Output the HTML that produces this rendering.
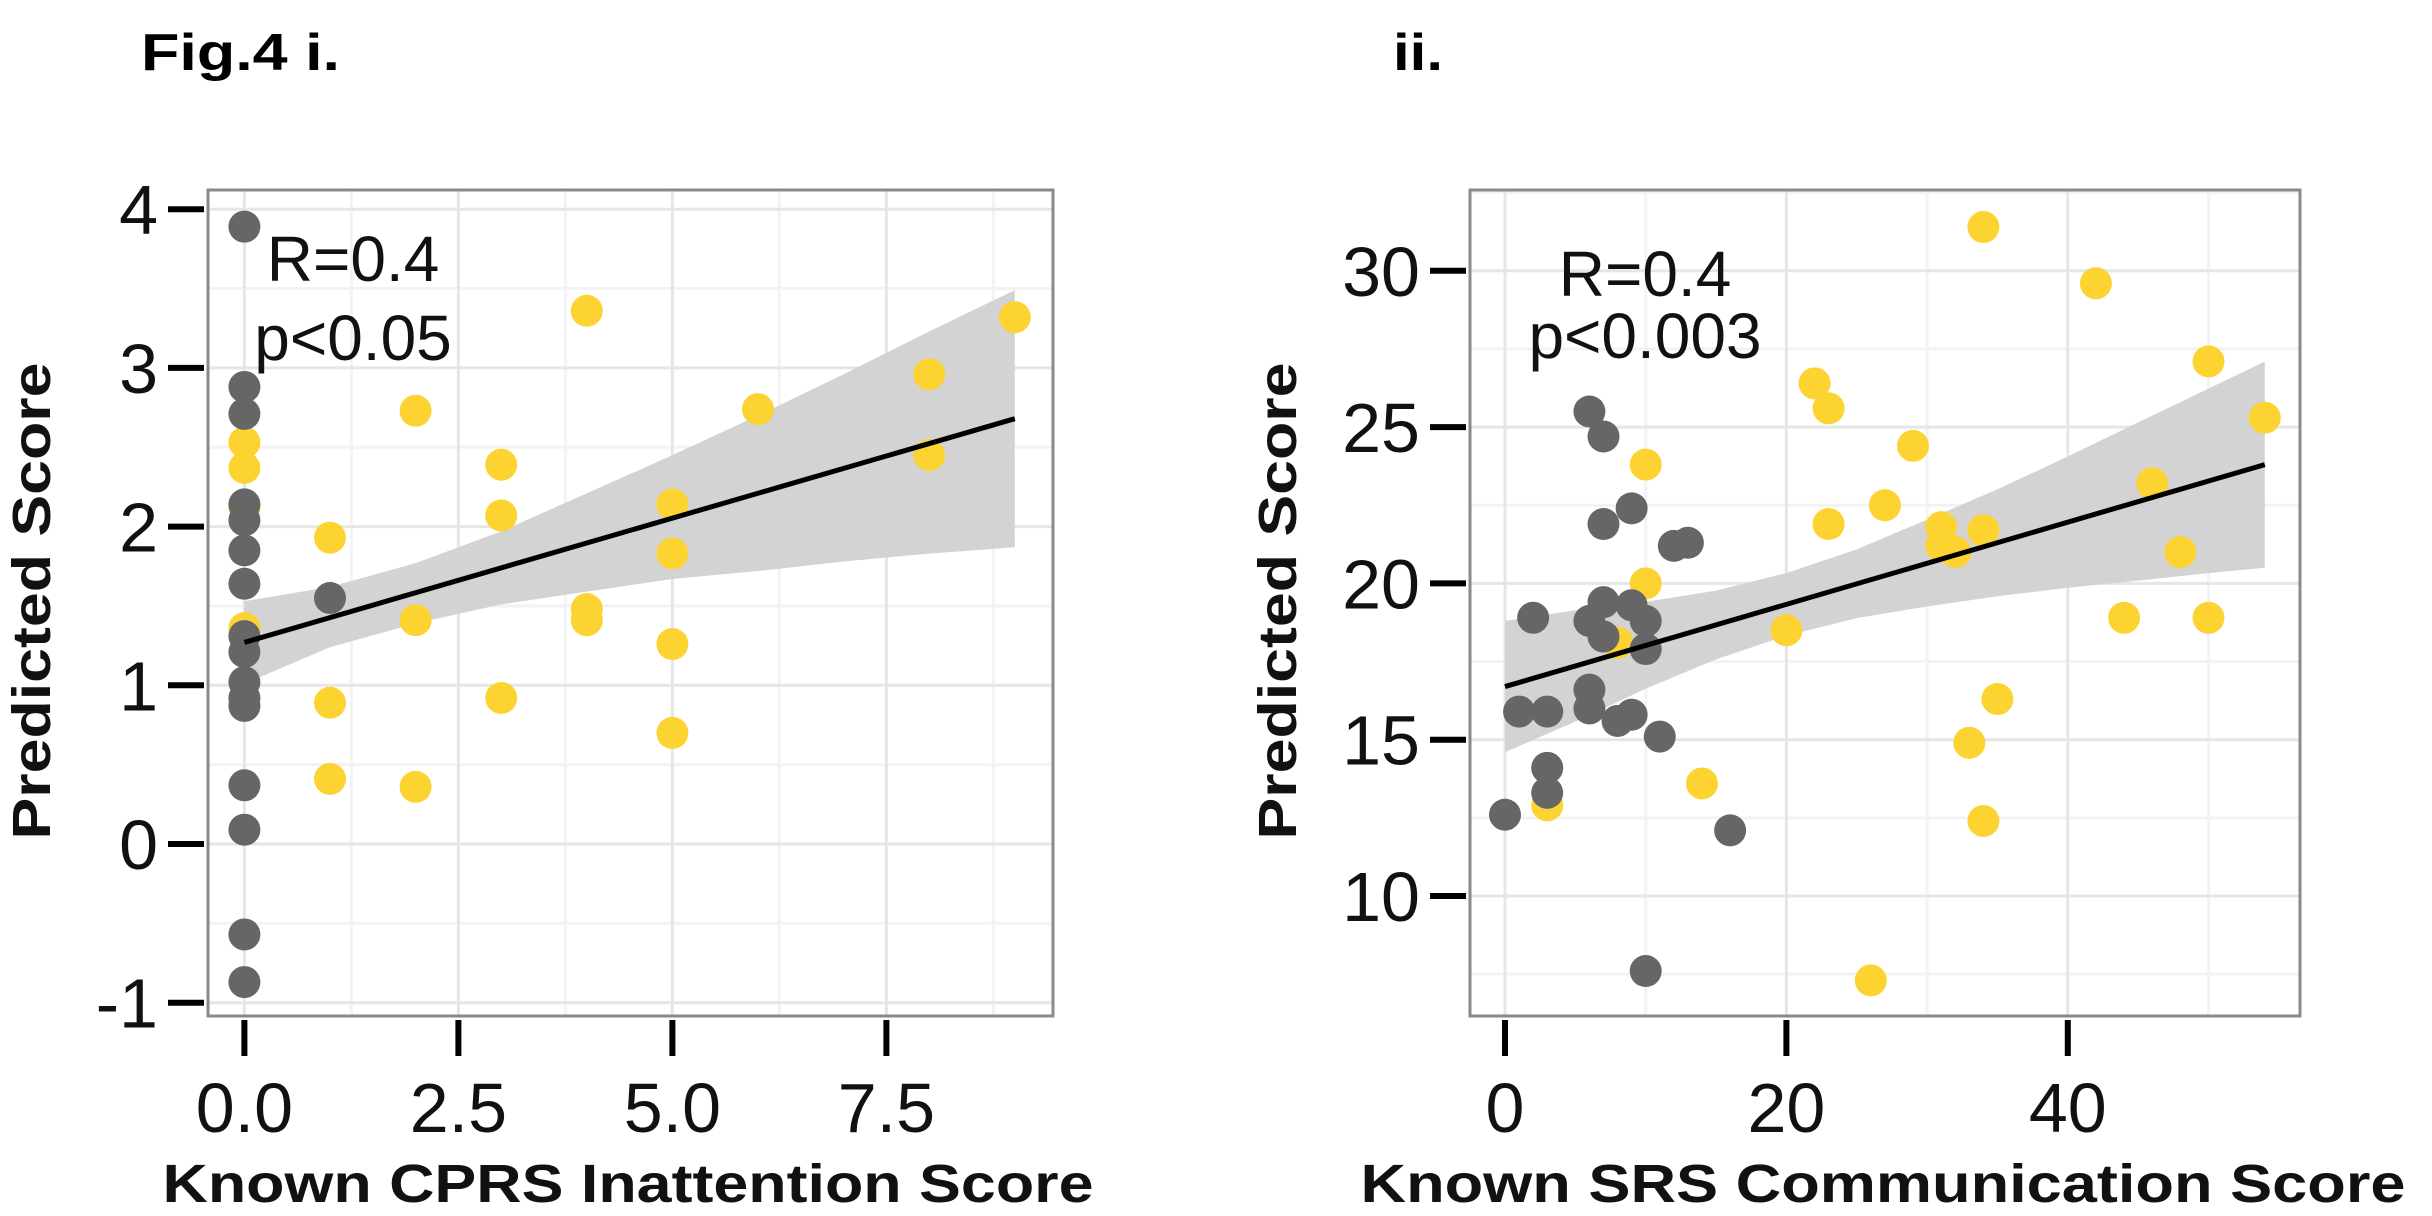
<!DOCTYPE html>
<html><head><meta charset="utf-8">
<style>
html,body{margin:0;padding:0;background:#fff;}
svg{display:block;font-family:"Liberation Sans",sans-serif;}
</style></head>
<body>
<svg id="fig" width="2432" height="1216" viewBox="0 0 2432 1216" xmlns="http://www.w3.org/2000/svg">
<text x="141" y="70" font-size="52" font-weight="bold" textLength="199" lengthAdjust="spacingAndGlyphs">Fig.4 i.</text>
<text x="1393" y="70" font-size="52" font-weight="bold" textLength="50" lengthAdjust="spacingAndGlyphs">ii.</text>
<g id="p1"></g>
<g id="p2"></g>
</svg>
<script>
// Panel i data
const p1GrayX = [0,0,0,0,0,0,0,0,0,0,0,0,0,0,0,0,1];
const p1GrayY = [3.89,2.88,2.71,2.14,2.04,1.85,1.64,1.31,1.21,1.02,0.92,0.87,0.37,0.09,-0.57,-0.87,1.55];
const p1YellowX = [0,0,0,0,1,1,1,2,2,2,3,3,3,4,4,4,5,5,5,5,6,8,8,9];
const p1YellowY = [2.53,2.37,2.12,1.36,1.93,0.89,0.41,2.73,1.41,0.36,2.39,2.07,0.92,3.36,1.48,1.41,2.14,1.83,1.26,0.70,2.74,2.96,2.45,3.32];
const p1BandX = [0,1,2,3,4,5,6,7,8,9];
const p1Fit = [1.27,1.43,1.58,1.74,1.90,2.06,2.21,2.37,2.53,2.68];
const p1Half = [0.26,0.19,0.19,0.23,0.31,0.39,0.49,0.59,0.70,0.81];
const p1XTicks = [0,2.5,5,7.5];
const p1XTickLabels = ["0.0","2.5","5.0","7.5"];
const p1YTicks = [-1,0,1,2,3,4];
const p1YTickLabels = ["-1","0","1","2","3","4"];

// Panel ii data
const p2GrayX = [0,2,1,3,3,3,6,7,7,9,12,13,7,6,7,9,10,10,6,6,8,9,11,16,10];
const p2GrayY = [12.6,18.9,15.9,15.9,14.1,13.3,25.5,24.7,21.9,22.4,21.2,21.3,19.4,18.8,18.3,19.3,18.8,17.9,16.6,16.0,15.6,15.8,15.1,12.1,7.6];
const p2YellowX = [34,42,50,54,22,23,29,10,27,23,31,34,31,32,46,48,10,20,8,44,50,35,33,34,14,3,26];
const p2YellowY = [31.4,29.6,27.1,25.3,26.4,25.6,24.4,23.8,22.5,21.9,21.8,21.7,21.2,21.0,23.2,21.0,20.0,18.5,18.1,18.9,18.9,16.3,14.9,12.4,13.6,12.9,7.3];
const p2BandX = [0,5,10,15,20,25,30,35,40,45,50,54];
const p2Fit = [16.7,17.36,18.02,18.67,19.33,19.99,20.65,21.3,21.96,22.62,23.28,23.8];
const p2Half = [2.1,1.78,1.39,1.1,1.0,1.1,1.39,1.71,2.1,2.53,2.95,3.3];
const p2XTicks = [0,20,40];
const p2XTickLabels = ["0","20","40"];
const p2YTicks = [10,15,20,25,30];
const p2YTickLabels = ["10","15","20","25","30"];

const NS = "http://www.w3.org/2000/svg";
function mk(parent, tag, attrs, txt){
  const e = document.createElementNS(NS, tag);
  for (const k in attrs) e.setAttribute(k, attrs[k]);
  if (txt !== undefined) e.textContent = txt;
  parent.appendChild(e);
  return e;
}

function drawPanel(g, cfg){
  const {L,R,T,B,sx,sy} = cfg;
  const bg = mk(g,'rect',{x:L,y:T,width:R-L,height:B-T,fill:'#fff'});
  
  
  for (let i=0;i<cfg.xTicks.length+1;i++){
    const step = cfg.xTicks[1]-cfg.xTicks[0];
    const v = cfg.xTicks[0] + (i-0.5)*step;
    const px = sx(v);
    if (px>L && px<R){
      const l = mk(g,'line',{x1:px,x2:px,y1:T,y2:B,stroke:'#f3f3f3','stroke-width':3});
      
      
    }
  }
  for (let i=0;i<cfg.yTicks.length+1;i++){
    const step = cfg.yTicks[1]-cfg.yTicks[0];
    const v = cfg.yTicks[0] + (i-0.5)*step;
    const py = sy(v);
    if (py>T && py<B){
      const l = mk(g,'line',{x1:L,x2:R,y1:py,y2:py,stroke:'#f3f3f3','stroke-width':3});
      
      
    }
  }
  cfg.xTicks.forEach((v,i)=>{
    const px = sx(v);
    const l = mk(g,'line',{x1:px,x2:px,y1:T,y2:B,stroke:'#e6e6e6','stroke-width':3});
    
    
    const t = mk(g,'line',{x1:px,x2:px,y1:B+4,y2:B+40,stroke:'#000','stroke-width':6});
    
    
    const tx = mk(g,'text',{x:px,y:B+116,'font-size':70,'text-anchor':'middle',fill:'#111'},cfg.xTickLabels[i]);
    
    
  });
  cfg.yTicks.forEach((v,i)=>{
    const py = sy(v);
    const l = mk(g,'line',{x1:L,x2:R,y1:py,y2:py,stroke:'#e6e6e6','stroke-width':3});
    
    
    const t = mk(g,'line',{x1:L-40,x2:L-4,y1:py,y2:py,stroke:'#000','stroke-width':6});
    
    
    const tx = mk(g,'text',{x:L-50,y:py+25,'font-size':70,'text-anchor':'end',fill:'#111'},cfg.yTickLabels[i]);
    
    
  });
  // confidence band
  let up = cfg.bandX.map((x,i)=>sx(x)+','+sy(cfg.fit[i]+cfg.half[i]));
  let lo = cfg.bandX.map((x,i)=>sx(x)+','+sy(cfg.fit[i]-cfg.half[i])).reverse();
  const band = mk(g,'polygon',{points:up.concat(lo).join(' '),fill:'#d3d3d3'});
  
  
  // points
  cfg.yellowX.forEach((x,i)=>{
    const c = mk(g,'circle',{cx:sx(x),cy:sy(cfg.yellowY[i]),r:16,fill:'#fdd331'});
    
    
  });
  cfg.grayX.forEach((x,i)=>{
    const c = mk(g,'circle',{cx:sx(x),cy:sy(cfg.grayY[i]),r:16,fill:'#666666'});
    
    
  });
  const n = cfg.bandX.length-1;
  const fl = mk(g,'line',{x1:sx(cfg.bandX[0]),y1:sy(cfg.fit[0]),x2:sx(cfg.bandX[n]),y2:sy(cfg.fit[n]),stroke:'#000','stroke-width':5});
  
  
  const border = mk(g,'rect',{x:L,y:T,width:R-L,height:B-T,fill:'none',stroke:'#8a8a8a','stroke-width':3});
  
  
  const a1 = mk(g,'text',{x:cfg.annX,y:cfg.annY1,'font-size':64,'text-anchor':'middle',fill:'#111'},'R=0.4');
  
  
  const a2 = mk(g,'text',{x:cfg.annX,y:cfg.annY2,'font-size':64,'text-anchor':'middle',fill:'#111'},cfg.pText);
  
  
  const xt = mk(g,'text',{x:cfg.xTitleX,y:1202,'font-size':54,'font-weight':'bold','text-anchor':'middle',textLength:cfg.xTitleLen,lengthAdjust:'spacingAndGlyphs',fill:'#111'},cfg.xTitle);
  
  
  const yt = mk(g,'text',{x:0,y:0,'font-size':54,'font-weight':'bold','text-anchor':'middle',textLength:477,lengthAdjust:'spacingAndGlyphs',fill:'#111',transform:`translate(${cfg.yTitleX},${cfg.yTitleY}) rotate(-90)`},'Predicted Score');
  
  
}

const p1 = {L:208,R:1053,T:190,B:1016,
  sx:v=>244.4+v*85.6, sy:v=>844-v*158.7,
  xTicks:p1XTicks,xTickLabels:p1XTickLabels,yTicks:p1YTicks,yTickLabels:p1YTickLabels,
  grayX:p1GrayX,grayY:p1GrayY,yellowX:p1YellowX,yellowY:p1YellowY,
  bandX:p1BandX,fit:p1Fit,half:p1Half,
  annX:353,annY1:281,annY2:360,pText:'p<0.05',
  xTitle:'Known CPRS Inattention Score',xTitleX:628,xTitleLen:931,yTitleX:50,yTitleY:601};
drawPanel(document.getElementById('p1'),p1);

const p2 = {L:1470,R:2300,T:190,B:1016,
  sx:v=>1505+v*14.07, sy:v=>896-(v-10)*31.26,
  xTicks:p2XTicks,xTickLabels:p2XTickLabels,yTicks:p2YTicks,yTickLabels:p2YTickLabels,
  grayX:p2GrayX,grayY:p2GrayY,yellowX:p2YellowX,yellowY:p2YellowY,
  bandX:p2BandX,fit:p2Fit,half:p2Half,
  annX:1645,annY1:296,annY2:358,pText:'p<0.003',
  xTitle:'Known SRS Communication Score',xTitleX:1883,xTitleLen:1045,yTitleX:1296,yTitleY:601};
drawPanel(document.getElementById('p2'),p2);
</script>
</body></html>
